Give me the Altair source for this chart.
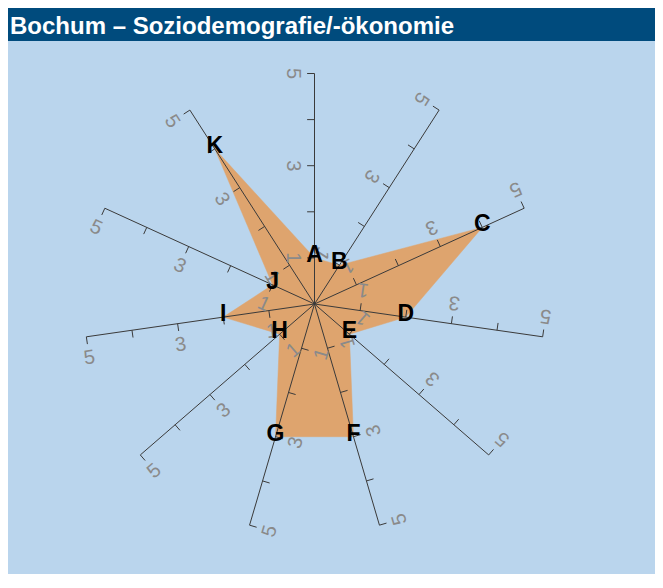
import altair as alt
import pandas as pd

# ---- data ----
axes = ["A", "B", "C", "D", "E", "F", "G", "H", "I", "J", "K"]
values = [1, 1, 4, 2, 1, 3, 3, 1, 2, 1, 4]
tick_values = [1, 2, 3, 4, 5]
label_values = [1, 3, 5]
title_text = "Bochum – Soziodemografie/-ökonomie"

# ---- layout / style ----
W, H = 647, 566
PX = 46.1            # pixels per unit
CX, CY = 306.5, 296  # radar centre in chart pixels
R_MAX = 5
TICK_LEN = 0.16
LABEL_OFF = 0.46
BG = "#bad5ed"
BAR = "#004b7d"
FILL = "#dea46e"
LINE = "#3a3a3a"
LABEL = "#8a8a8a"
FONT = "Liberation Sans"

n = len(axes)
step = 360.0 / n

poly_df = pd.DataFrame({"axis": axes, "value": values, "idx": list(range(n))})
poly_df["theta"] = poly_df["idx"] * step

axis_df = pd.DataFrame({"axis": axes, "idx": list(range(n))})
axis_df["theta"] = axis_df["idx"] * step
axis_df["rmax"] = R_MAX

tick_df = pd.DataFrame([(a, i * step, t) for i, a in enumerate(axes) for t in tick_values],
                       columns=["axis", "theta", "t"])
lab_df = pd.DataFrame([(a, i * step, t, str(t)) for i, a in enumerate(axes) for t in label_values],
                      columns=["axis", "theta", "t", "txt"])
title_df = pd.DataFrame({"title": [title_text]})

xs = alt.Scale(domain=[-CX / PX, (W - CX) / PX], nice=False, zero=False)
ys = alt.Scale(domain=[(CY - H) / PX, CY / PX], nice=False, zero=False)

def X(f):
    return alt.X(f, type="quantitative", scale=xs, axis=None)

def Y(f):
    return alt.Y(f, type="quantitative", scale=ys, axis=None)

RAD = "PI/180"

bar = alt.Chart(title_df).mark_rect(color=BAR).encode(
    x=alt.value(0), x2=alt.value(W), y=alt.value(0), y2=alt.value(33)
)
title = alt.Chart(title_df).mark_text(
    align="left", baseline="alphabetic", fontSize=24, fontWeight="bold",
    color="white", font=FONT
).encode(x=alt.value(2), y=alt.value(26), text="title:N")

polygon = alt.Chart(poly_df).transform_calculate(
    px=f"datum.value*sin(datum.theta*{RAD})",
    py=f"datum.value*cos(datum.theta*{RAD})",
).mark_line(fill=FILL, stroke=FILL, strokeWidth=0.5, interpolate="linear-closed").encode(
    x=X("px"), y=Y("py"), order="idx:Q"
)

rules = alt.Chart(axis_df).transform_calculate(
    x0="0", y0="0",
    x1=f"datum.rmax*sin(datum.theta*{RAD})",
    y1=f"datum.rmax*cos(datum.theta*{RAD})",
).mark_rule(color=LINE, strokeWidth=1).encode(
    x=X("x0"), y=Y("y0"), x2="x1:Q", y2="y1:Q"
)

ticks = alt.Chart(tick_df).transform_calculate(
    tx=f"datum.t*sin(datum.theta*{RAD})",
    ty=f"datum.t*cos(datum.theta*{RAD})",
).transform_calculate(
    tx2=f"datum.tx - {TICK_LEN}*cos(datum.theta*{RAD})",
    ty2=f"datum.ty + {TICK_LEN}*sin(datum.theta*{RAD})",
).mark_rule(color=LINE, strokeWidth=1).encode(
    x=X("tx"), y=Y("ty"), x2="tx2:Q", y2="ty2:Q"
)

labels = alt.Chart(lab_df).transform_calculate(
    lx=f"datum.t*sin(datum.theta*{RAD}) - {LABEL_OFF}*cos(datum.theta*{RAD})",
    ly=f"datum.t*cos(datum.theta*{RAD}) + {LABEL_OFF}*sin(datum.theta*{RAD})",
    ang="(datum.theta + 90) % 360",
).mark_text(
    align="center", baseline="middle", fontSize=20, color=LABEL, font=FONT
).encode(
    x=X("lx"), y=Y("ly"), text="txt:N", angle=alt.Angle("ang:Q", scale=None)
)

letters = alt.Chart(poly_df).transform_calculate(
    px=f"datum.value*sin(datum.theta*{RAD})",
    py=f"datum.value*cos(datum.theta*{RAD})",
).mark_text(
    align="center", baseline="middle", fontSize=23, fontWeight="bold",
    color="black", font=FONT, dy=-3
).encode(x=X("px"), y=Y("py"), text="axis:N")

chart = alt.layer(bar, title, polygon, rules, ticks, labels, letters).properties(
    width=W, height=H, padding=0, background=BG,
    autosize=alt.AutoSizeParams(type="none"),
).configure_view(stroke=None, fill=BG)

chart.save("out.html", embed_options={"renderer": "svg", "actions": False})
